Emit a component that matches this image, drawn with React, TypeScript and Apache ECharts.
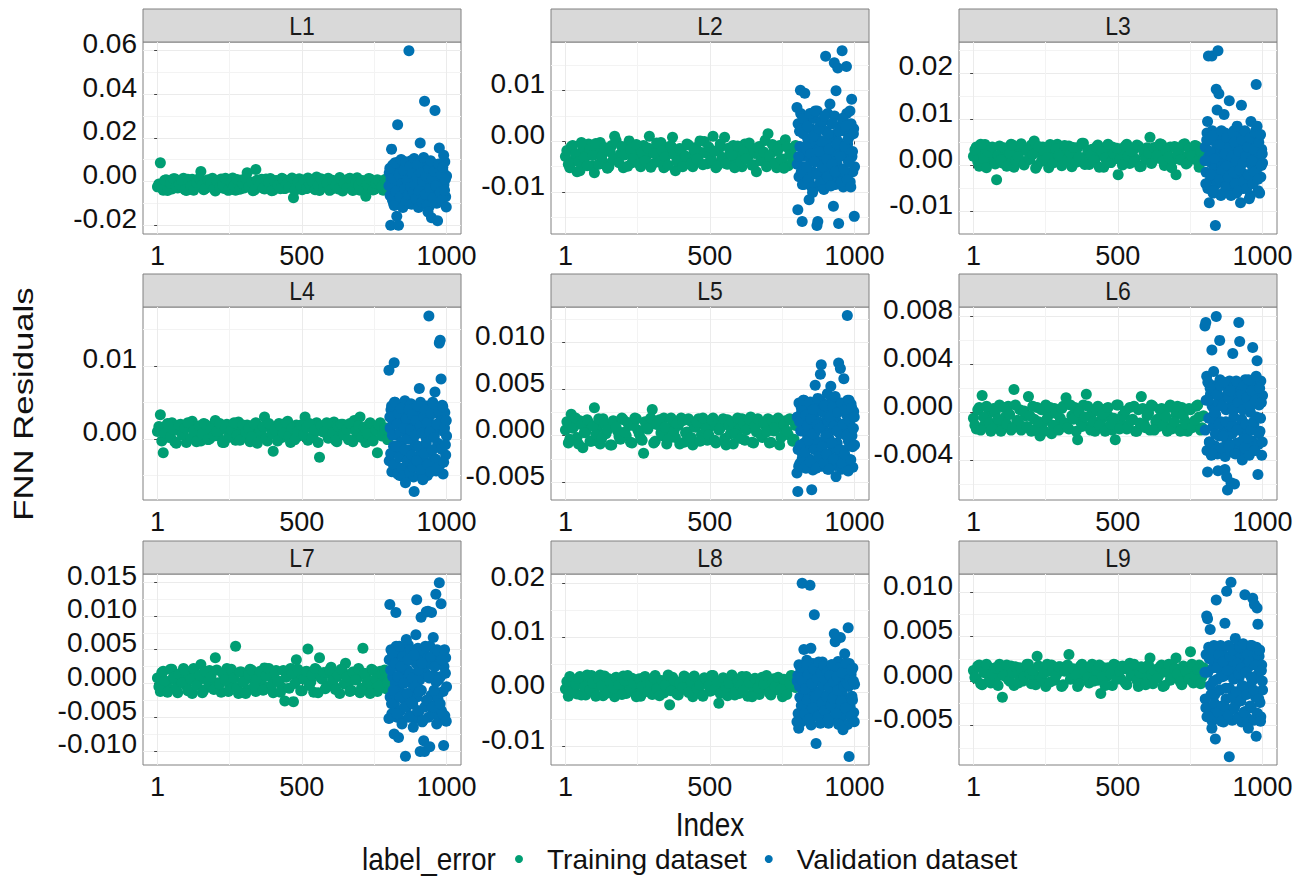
import React, { useEffect, useRef } from "react";
import * as echarts from "echarts";

// ---------------- DATA ----------------
const PANELS = ["L1", "L2", "L3", "L4", "L5", "L6", "L7", "L8", "L9"];
const SERIES_NAMES = ["Training dataset", "Validation dataset"];
const LEGEND_TITLE = "label_error";
const X_TITLE = "Index";
const Y_TITLE = "FNN Residuals";

const X_MAJOR = [1, 500, 1000];
const X_MINOR = [250.5, 750.5];

// observation indices (sub-sampled)
const TRAIN_IDX = [1, 11, 21, 31, 41, 51, 61, 71, 81, 91, 101, 111, 121, 131, 141, 151, 161, 171, 181, 191,
  201, 211, 221, 231, 241, 251, 261, 271, 281, 291, 301, 311, 321, 331, 341, 351, 361, 371, 381, 391,
  401, 411, 421, 431, 441, 451, 461, 471, 481, 491, 501, 511, 521, 531, 541, 551, 561, 571, 581, 591,
  601, 611, 621, 631, 641, 651, 661, 671, 681, 691, 701, 711, 721, 731, 741, 751, 761, 771, 781, 791];
const TRAIN_IDX_B = [6, 16, 26, 36, 46, 56, 66, 76, 86, 96, 106, 116, 126, 136, 146, 156, 166, 176, 186, 196,
  206, 216, 226, 236, 246, 256, 266, 276, 286, 296, 306, 316, 326, 336, 346, 356, 366, 376, 386, 396,
  406, 416, 426, 436, 446, 456, 466, 476, 486, 496, 506, 516, 526, 536, 546, 556, 566, 576, 586, 596,
  606, 616, 626, 636, 646, 656, 666, 676, 686, 696, 706, 716, 726, 736, 746, 756, 766, 776, 786, 796];
const VAL_IDX = [801, 804, 807, 810, 813, 816, 819, 822, 825, 828, 831, 834, 837, 840, 843, 846, 849, 852, 855, 858,
  861, 864, 867, 870, 873, 876, 879, 882, 885, 888, 891, 894, 897, 900, 903, 906, 909, 912, 915, 918,
  921, 924, 927, 930, 933, 936, 939, 942, 945, 948, 951, 954, 957, 960, 963, 966, 969, 972, 975, 978,
  981, 984, 987, 990, 993, 996, 999];
const VAL_IDX_B = [802, 805, 808, 811, 814, 817, 820, 823, 826, 829, 832, 835, 838, 841, 844, 847, 850, 853, 856, 859,
  862, 865, 868, 871, 874, 877, 880, 883, 886, 889, 892, 895, 898, 901, 904, 907, 910, 913, 916, 919,
  922, 925, 928, 931, 934, 937, 940, 943, 946, 949, 952, 955, 958, 961, 964, 967, 970, 973, 976, 979,
  982, 985, 988, 991, 994, 997, 1000];

const L1_TRAIN = [-0.0025, 0.0085, -0.0040, 0.0008, -0.0018, -0.0035, 0.0012, -0.0030, -0.0008, 0.0015,
  -0.0042, -0.0005, 0.0010, -0.0028, -0.0012, 0.0045, -0.0038, 0.0002, -0.0020, 0.0014,
  -0.0044, -0.0010, 0.0011, -0.0032, -0.0002, -0.0025, 0.0016, -0.0040, -0.0015, 0.0006,
  -0.0030, 0.0040, -0.0020, -0.0043, 0.0055, -0.0008, 0.0010, -0.0035, -0.0012, 0.0013,
  -0.0040, 0.0004, -0.0022, 0.0015, -0.0033, -0.0005, 0.0009, -0.0075, -0.0016, 0.0012,
  -0.0038, -0.0003, 0.0016, -0.0027, -0.0010, 0.0020, -0.0042, 0.0006, -0.0019, 0.0014,
  -0.0036, 0.0000, -0.0025, 0.0018, -0.0044, -0.0009, 0.0011, -0.0030, -0.0014, 0.0017,
  -0.0040, 0.0003, -0.0068, 0.0013, -0.0021, -0.0036, 0.0008, -0.0012, -0.0040, 0.0010];
const L1_TRAIN_B = [-0.0012, -0.0030, 0.0005, -0.0042, -0.0008, 0.0012, -0.0025, -0.0015, 0.0002, -0.0038,
  0.0010, -0.0022, -0.0040, -0.0005, 0.0014, -0.0018, -0.0032, 0.0008, -0.0010, -0.0035,
  0.0004, -0.0028, -0.0014, 0.0015, -0.0041, -0.0006, -0.0020, 0.0009, -0.0036, -0.0011,
  0.0013, -0.0024, -0.0003, -0.0039, 0.0006, -0.0016, -0.0031, 0.0011, -0.0007, -0.0043,
  0.0002, -0.0019, -0.0034, 0.0010, -0.0013, -0.0027, 0.0016, -0.0040, -0.0004, -0.0022,
  0.0007, -0.0033, -0.0012, 0.0003, -0.0038, -0.0017, 0.0012, -0.0026, -0.0008, -0.0041,
  0.0005, -0.0021, -0.0035, 0.0009, -0.0010, -0.0029, 0.0014, -0.0042, -0.0006, -0.0018,
  0.0004, -0.0032, -0.0015, 0.0011, -0.0039, -0.0009, 0.0002, -0.0025, 0.0008, -0.0034];
const L1_VAL = [-0.0020, 0.0060, -0.0201, 0.0148, -0.0085, 0.0015, -0.0110, 0.0085, -0.0045, -0.0160,
  0.0260, -0.0201, 0.0030, -0.0070, 0.0100, -0.0010, -0.0120, 0.0050, -0.0035, 0.0090,
  -0.0090, 0.0005, -0.0060, 0.0599, 0.0070, -0.0025, -0.0105, 0.0035, -0.0050, 0.0105,
  -0.0015, -0.0080, 0.0020, 0.0075, -0.0120, -0.0040, 0.0176, 0.0040, -0.0095, 0.0000,
  0.0110, 0.0367, -0.0060, 0.0025, -0.0110, -0.0140, 0.0060, -0.0030, 0.0095, -0.0167,
  0.0010, -0.0075, 0.0045, 0.0325, -0.0020, -0.0100, -0.0180, 0.0080, 0.0153, -0.0050,
  0.0030, -0.0085, 0.0065, 0.0120, -0.0040, 0.0010, -0.0117];
const L1_VAL_B = [0.0040, -0.0065, 0.0010, -0.0030, 0.0075, -0.0100, 0.0025, -0.0015, 0.0055, -0.0080,
  0.0000, 0.0090, -0.0050, 0.0020, -0.0110, 0.0065, -0.0025, 0.0035, -0.0070, 0.0080,
  -0.0005, -0.0095, 0.0045, 0.0015, -0.0055, 0.0095, -0.0035, 0.0005, -0.0085, 0.0050,
  0.0030, -0.0060, 0.0070, -0.0020, -0.0105, 0.0010, 0.0060, -0.0045, 0.0085, -0.0075,
  -0.0010, 0.0040, -0.0090, 0.0020, 0.0065, -0.0030, -0.0115, 0.0050, -0.0005, 0.0030,
  -0.0065, 0.0080, -0.0040, 0.0015, -0.0095, 0.0055, 0.0000, -0.0055, 0.0035, -0.0025,
  0.0070, -0.0080, 0.0045, -0.0015, 0.0090, -0.0070, 0.0025];

const L2_TRAIN = [-0.0030, -0.0045, -0.0010, -0.0038, -0.0060, -0.0058, -0.0015, -0.0030, -0.0005, -0.0048,
  -0.0062, -0.0022, -0.0002, -0.0040, -0.0018, -0.0050, -0.0008, 0.0010, -0.0035, -0.0025,
  -0.0052, -0.0012, 0.0001, -0.0042, -0.0020, -0.0033, -0.0050, -0.0008, -0.0028, 0.0010,
  -0.0045, -0.0015, -0.0035, -0.0002, -0.0052, -0.0025, -0.0010, 0.0008, -0.0058, -0.0030,
  -0.0018, -0.0046, -0.0005, -0.0032, -0.0050, -0.0012, -0.0038, -0.0022, 0.0000, -0.0044,
  -0.0028, 0.0010, -0.0052, -0.0015, -0.0035, 0.0008, -0.0045, -0.0020, -0.0008, -0.0040,
  -0.0025, -0.0050, -0.0005, -0.0032, -0.0015, -0.0046, -0.0060, -0.0010, -0.0030, 0.0002,
  0.0015, -0.0042, -0.0020, -0.0052, -0.0008, -0.0035, 0.0003, -0.0048, -0.0018, -0.0032];
const L2_TRAIN_B = [-0.0018, -0.0052, -0.0008, -0.0025, -0.0040, -0.0002, -0.0033, -0.0048, -0.0015, -0.0028,
  -0.0004, -0.0045, -0.0030, -0.0012, -0.0053, -0.0021, -0.0036, 0.0002, -0.0042, -0.0010,
  -0.0027, -0.0049, -0.0016, -0.0034, -0.0006, -0.0044, -0.0022, -0.0038, -0.0013, -0.0051,
  -0.0024, -0.0003, -0.0041, -0.0019, -0.0031, -0.0047, -0.0009, -0.0026, -0.0039, -0.0014,
  -0.0050, -0.0029, -0.0007, -0.0043, -0.0017, -0.0035, 0.0001, -0.0046, -0.0023, -0.0011,
  -0.0037, -0.0020, -0.0048, -0.0005, -0.0032, -0.0044, -0.0013, -0.0027, -0.0052, -0.0009,
  -0.0040, -0.0018, -0.0034, -0.0003, -0.0047, -0.0024, -0.0012, -0.0038, -0.0021, -0.0050,
  -0.0029, -0.0006, -0.0043, -0.0016, -0.0035, -0.0053, -0.0011, -0.0026, -0.0041, -0.0008];
const L2_VAL = [0.0067, -0.0135, -0.0030, 0.0020, 0.0101, -0.0060, -0.0158, 0.0045, -0.0085, 0.0095,
  -0.0010, -0.0050, 0.0030, -0.0075, -0.0115, 0.0055, -0.0025, -0.0090, -0.0101, 0.0010,
  -0.0040, 0.0060, -0.0065, -0.0166, -0.0158, 0.0025, -0.0020, -0.0080, 0.0040, -0.0050,
  0.0000, -0.0095, 0.0050, 0.0168, -0.0035, -0.0070, 0.0015, -0.0015, 0.0074, -0.0088,
  -0.0045, 0.0035, -0.0128, 0.0155, -0.0060, 0.0100, -0.0005, 0.0145, -0.0162, 0.0020,
  -0.0030, -0.0080, 0.0179, 0.0045, -0.0055, -0.0010, 0.0030, 0.0148, -0.0075, 0.0005,
  -0.0040, 0.0060, -0.0090, 0.0083, -0.0020, 0.0015, -0.0148];
const L2_VAL_B = [-0.0045, 0.0035, -0.0070, -0.0010, 0.0055, -0.0030, -0.0085, 0.0015, -0.0050, 0.0040,
  -0.0020, -0.0065, 0.0005, 0.0050, -0.0080, -0.0035, 0.0025, -0.0005, -0.0060, 0.0045,
  -0.0025, -0.0090, 0.0010, 0.0060, -0.0040, -0.0015, 0.0030, -0.0070, 0.0000, -0.0055,
  0.0040, -0.0030, -0.0085, 0.0020, -0.0010, 0.0055, -0.0050, -0.0075, 0.0005, -0.0035,
  0.0035, -0.0060, -0.0020, 0.0050, -0.0085, 0.0015, -0.0045, 0.0000, -0.0070, 0.0030,
  -0.0015, -0.0055, 0.0045, -0.0090, -0.0025, 0.0020, -0.0065, 0.0055, -0.0005, -0.0040,
  0.0010, -0.0080, 0.0035, -0.0030, -0.0060, 0.0025, -0.0050];

const L3_TRAIN = [0.0020, 0.0040, -0.0002, 0.0028, 0.0045, 0.0010, 0.0035, 0.0018, -0.0031, 0.0042,
  0.0005, 0.0030, 0.0015, 0.0046, -0.0004, 0.0025, 0.0038, 0.0008, 0.0032, 0.0012,
  0.0044, 0.0053, 0.0000, 0.0027, 0.0040, 0.0014, -0.0005, 0.0034, 0.0020, 0.0046,
  0.0006, 0.0030, 0.0016, 0.0042, -0.0003, 0.0024, 0.0038, 0.0010, 0.0048, 0.0020,
  0.0002, 0.0035, 0.0012, 0.0044, 0.0025, -0.0004, 0.0032, 0.0008, 0.0040, 0.0018,
  -0.0020, 0.0036, 0.0022, 0.0046, 0.0004, 0.0030, 0.0014, 0.0042, -0.0002, 0.0026,
  0.0038, 0.0061, 0.0010, 0.0032, 0.0018, 0.0045, 0.0000, 0.0028, 0.0040, 0.0012,
  -0.0020, 0.0035, 0.0020, 0.0047, 0.0006, 0.0030, 0.0015, 0.0042, -0.0004, 0.0025];
const L3_TRAIN_B = [0.0034, 0.0008, 0.0046, 0.0015, -0.0005, 0.0028, 0.0040, 0.0003, 0.0022, 0.0012,
  0.0038, -0.0002, 0.0026, 0.0044, 0.0010, 0.0019, 0.0047, 0.0001, 0.0032, 0.0014,
  0.0024, -0.0006, 0.0041, 0.0009, 0.0030, 0.0017, 0.0045, 0.0005, 0.0036, 0.0021,
  -0.0001, 0.0043, 0.0012, 0.0027, 0.0039, 0.0007, 0.0018, 0.0048, 0.0002, 0.0033,
  0.0023, 0.0011, 0.0040, -0.0004, 0.0029, 0.0016, 0.0046, 0.0006, 0.0025, 0.0037,
  0.0013, 0.0001, 0.0042, 0.0020, 0.0031, 0.0008, 0.0044, -0.0003, 0.0035, 0.0015,
  0.0027, 0.0004, 0.0039, 0.0022, 0.0047, 0.0010, 0.0032, 0.0018, -0.0005, 0.0041,
  0.0024, 0.0012, 0.0045, 0.0003, 0.0036, 0.0021, 0.0043, 0.0009, 0.0030, 0.0014];
const L3_VAL = [0.0010, -0.0040, 0.0055, 0.0095, 0.0237, -0.0081, 0.0030, -0.0020, 0.0237, 0.0065,
  -0.0055, 0.0015, -0.0130, 0.0165, 0.0120, 0.0248, 0.0155, -0.0030, 0.0045, 0.0075,
  -0.0010, -0.0060, 0.0110, 0.0025, -0.0045, 0.0060, 0.0000, -0.0025, 0.0140, 0.0040,
  -0.0065, 0.0020, 0.0070, -0.0015, 0.0050, -0.0040, 0.0010, 0.0085, -0.0055, 0.0030,
  -0.0010, -0.0081, 0.0130, 0.0055, 0.0005, -0.0035, 0.0075, 0.0020, -0.0050, 0.0040,
  -0.0020, -0.0072, 0.0060, 0.0095, 0.0010, -0.0040, 0.0035, -0.0015, 0.0070, 0.0175,
  0.0085, -0.0030, 0.0050, -0.0060, 0.0067, 0.0000, 0.0025];
const L3_VAL_B = [0.0040, -0.0015, 0.0070, -0.0050, 0.0020, 0.0055, -0.0030, 0.0005, 0.0075, -0.0060,
  0.0030, -0.0005, 0.0050, -0.0040, 0.0015, 0.0065, -0.0020, 0.0035, -0.0065, 0.0000,
  0.0045, 0.0025, -0.0035, 0.0070, -0.0010, 0.0010, -0.0055, 0.0060, 0.0030, -0.0025,
  0.0050, -0.0045, 0.0015, 0.0075, -0.0005, 0.0040, -0.0060, 0.0020, 0.0055, -0.0030,
  0.0005, 0.0065, -0.0015, 0.0035, -0.0050, 0.0025, 0.0070, -0.0040, 0.0010, 0.0045,
  -0.0020, 0.0060, -0.0065, 0.0030, 0.0000, 0.0050, -0.0035, 0.0015, 0.0075, -0.0010,
  0.0040, -0.0055, 0.0020, 0.0065, -0.0025, 0.0035, 0.0005];

const L4_TRAIN = [0.0010, 0.0033, -0.0019, 0.0018, 0.0002, 0.0022, -0.0004, 0.0012, 0.0020, 0.0005,
  -0.0005, 0.0016, 0.0024, 0.0006, 0.0014, -0.0003, 0.0021, 0.0009, 0.0000, 0.0018,
  0.0025, 0.0004, 0.0013, -0.0005, 0.0020, 0.0008, 0.0016, -0.0002, 0.0023, 0.0011,
  0.0003, 0.0019, -0.0004, 0.0014, 0.0022, 0.0006, 0.0012, 0.0030, -0.0003, 0.0017,
  -0.0017, 0.0009, 0.0021, 0.0002, 0.0015, 0.0024, -0.0005, 0.0011, 0.0019, 0.0004,
  0.0013, 0.0030, -0.0002, 0.0017, 0.0007, 0.0022, -0.0025, 0.0010, 0.0018, 0.0001,
  0.0014, 0.0023, -0.0004, 0.0008, 0.0020, 0.0012, -0.0001, 0.0016, 0.0025, 0.0005,
  0.0030, 0.0010, -0.0005, 0.0019, 0.0003, 0.0014, -0.0019, 0.0022, 0.0007, 0.0015];
const L4_TRAIN_B = [0.0017, -0.0003, 0.0008, 0.0021, 0.0003, 0.0013, -0.0006, 0.0019, 0.0006, 0.0015,
  0.0022, 0.0001, 0.0011, -0.0004, 0.0018, 0.0007, 0.0020, -0.0001, 0.0014, 0.0004,
  0.0010, 0.0021, -0.0005, 0.0016, 0.0002, 0.0012, 0.0022, 0.0005, -0.0002, 0.0019,
  0.0009, 0.0014, 0.0003, 0.0020, -0.0006, 0.0011, 0.0017, 0.0001, 0.0021, 0.0007,
  0.0013, -0.0003, 0.0018, 0.0008, 0.0022, 0.0004, 0.0015, -0.0001, 0.0010, 0.0019,
  0.0006, 0.0016, 0.0021, 0.0002, 0.0012, -0.0005, 0.0018, 0.0009, 0.0022, 0.0003,
  0.0008, -0.0002, 0.0017, 0.0020, 0.0005, 0.0013, 0.0021, -0.0004, 0.0011, 0.0018,
  0.0002, 0.0016, 0.0007, 0.0022, -0.0003, 0.0012, 0.0019, 0.0004, 0.0014, -0.0001];
const L4_VAL = [0.0094, 0.0030, -0.0020, 0.0045, 0.0005, -0.0035, 0.0104, 0.0050, -0.0010, 0.0020,
  -0.0048, 0.0035, -0.0025, 0.0010, 0.0042, -0.0040, -0.0051, 0.0015, -0.0015, -0.0060,
  0.0028, -0.0030, 0.0000, 0.0040, -0.0045, 0.0012, -0.0022, 0.0033, -0.0038, -0.0072,
  0.0005, 0.0025, -0.0030, 0.0045, -0.0010, 0.0069, 0.0018, -0.0042, 0.0008, -0.0056,
  0.0030, -0.0020, 0.0040, -0.0005, 0.0022, -0.0035, 0.0168, 0.0010, -0.0045, 0.0035,
  -0.0015, 0.0048, 0.0002, 0.0064, -0.0028, 0.0020, -0.0039, 0.0038, 0.0131, 0.0135,
  0.0082, -0.0012, 0.0044, -0.0032, 0.0015, -0.0008, 0.0025];
const L4_VAL_B = [-0.0030, 0.0015, 0.0040, -0.0045, 0.0025, -0.0010, 0.0050, -0.0035, 0.0005, 0.0030,
  -0.0020, 0.0045, -0.0050, 0.0020, -0.0005, 0.0035, -0.0040, 0.0010, 0.0052, -0.0025,
  0.0000, 0.0040, -0.0048, 0.0025, -0.0015, 0.0048, -0.0030, 0.0015, -0.0052, 0.0035,
  -0.0008, 0.0042, -0.0038, 0.0008, 0.0030, -0.0022, 0.0050, -0.0045, 0.0018, -0.0012,
  0.0038, -0.0032, 0.0003, 0.0045, -0.0050, 0.0022, -0.0018, 0.0032, -0.0040, 0.0012,
  0.0050, -0.0026, 0.0006, 0.0040, -0.0044, 0.0016, -0.0006, 0.0034, -0.0036, 0.0024,
  -0.0014, 0.0046, -0.0048, 0.0010, 0.0036, -0.0022, 0.0004];

const L5_TRAIN = [0.0006, -0.0008, 0.0023, 0.0010, -0.0002, 0.0016, -0.0013, 0.0004, 0.0014, -0.0006,
  0.0030, 0.0008, -0.0009, 0.0018, 0.0002, 0.0012, -0.0010, 0.0015, 0.0005, -0.0004,
  0.0017, 0.0000, 0.0011, -0.0008, 0.0019, 0.0006, -0.0003, -0.0019, 0.0009, 0.0016,
  0.0028, -0.0006, 0.0013, 0.0003, 0.0019, -0.0009, 0.0007, 0.0015, -0.0002, 0.0011,
  0.0019, -0.0007, 0.0004, 0.0016, -0.0010, 0.0009, 0.0018, 0.0001, 0.0013, -0.0005,
  0.0010, 0.0019, -0.0008, 0.0006, 0.0014, -0.0003, 0.0017, 0.0002, -0.0009, 0.0012,
  0.0007, 0.0018, -0.0005, 0.0010, 0.0020, -0.0008, 0.0004, 0.0015, -0.0002, 0.0011,
  0.0018, -0.0007, 0.0005, 0.0014, -0.0010, 0.0008, 0.0016, 0.0001, 0.0017, -0.0004];
const L5_TRAIN_B = [0.0015, -0.0004, 0.0008, 0.0019, -0.0009, 0.0012, 0.0003, 0.0017, -0.0006, 0.0010,
  0.0001, 0.0018, -0.0003, 0.0013, 0.0006, -0.0010, 0.0016, 0.0009, -0.0001, 0.0019,
  0.0004, 0.0014, -0.0007, 0.0011, 0.0018, 0.0002, -0.0005, 0.0015, 0.0007, 0.0019,
  -0.0008, 0.0012, 0.0017, 0.0000, 0.0009, -0.0004, 0.0019, 0.0005, 0.0013, -0.0009,
  0.0016, 0.0003, 0.0018, -0.0002, 0.0010, 0.0014, -0.0006, 0.0019, 0.0007, 0.0001,
  0.0017, -0.0005, 0.0012, 0.0008, 0.0018, -0.0010, 0.0011, 0.0015, 0.0002, 0.0019,
  -0.0003, 0.0013, 0.0006, 0.0017, -0.0007, 0.0010, 0.0018, 0.0001, 0.0014, 0.0004,
  -0.0008, 0.0016, 0.0009, 0.0019, -0.0002, 0.0012, 0.0005, 0.0018, -0.0006, 0.0011];
const L5_VAL = [-0.0040, -0.0060, -0.0033, 0.0015, -0.0010, 0.0030, -0.0025, 0.0005, 0.0038, -0.0018,
  0.0022, -0.0032, 0.0010, -0.0005, 0.0035, -0.0028, 0.0018, -0.0058, 0.0002, 0.0028,
  -0.0015, 0.0054, -0.0035, 0.0012, 0.0040, -0.0022, 0.0008, 0.0066, 0.0076, -0.0012,
  0.0025, -0.0030, 0.0032, 0.0000, -0.0020, 0.0045, 0.0015, -0.0036, 0.0020, 0.0053,
  -0.0008, 0.0030, -0.0025, 0.0010, 0.0042, -0.0044, 0.0005, 0.0025, 0.0078, -0.0015,
  0.0072, 0.0035, -0.0030, 0.0012, 0.0061, -0.0020, 0.0028, 0.0000, 0.0129, -0.0038,
  0.0038, 0.0016, -0.0026, 0.0030, -0.0012, 0.0008, 0.0020];
const L5_VAL_B = [0.0020, -0.0015, 0.0035, -0.0030, 0.0005, 0.0025, -0.0020, 0.0038, -0.0008, 0.0012,
  -0.0035, 0.0030, -0.0002, 0.0018, -0.0025, 0.0036, -0.0012, 0.0008, -0.0037, 0.0022,
  0.0002, -0.0028, 0.0033, -0.0006, 0.0015, -0.0018, 0.0038, -0.0033, 0.0010, 0.0026,
  -0.0010, 0.0034, -0.0024, 0.0004, 0.0020, -0.0036, 0.0030, -0.0004, 0.0014, -0.0028,
  0.0037, -0.0014, 0.0006, 0.0024, -0.0032, 0.0016, -0.0008, 0.0035, -0.0022, 0.0002,
  0.0028, -0.0036, 0.0012, 0.0032, -0.0016, 0.0008, -0.0030, 0.0022, 0.0038, -0.0006,
  0.0018, -0.0026, 0.0034, 0.0000, -0.0034, 0.0026, -0.0010];

const L6_TRAIN = [-0.0005, -0.0014, 0.0004, 0.0014, -0.0010, -0.0002, -0.0016, 0.0003, -0.0008, 0.0006,
  -0.0013, -0.0004, 0.0005, -0.0015, 0.0019, -0.0007, 0.0002, -0.0012, -0.0003, 0.0013,
  -0.0016, -0.0006, 0.0004, -0.0020, -0.0009, 0.0006, -0.0002, -0.0018, 0.0003, -0.0011,
  -0.0005, 0.0005, 0.0012, -0.0014, -0.0003, 0.0004, -0.0023, -0.0008, 0.0006, 0.0015,
  -0.0012, -0.0001, -0.0016, 0.0005, -0.0007, -0.0013, 0.0003, -0.0004, -0.0015, -0.0023,
  0.0006, -0.0009, -0.0002, -0.0014, 0.0004, -0.0006, -0.0016, 0.0002, 0.0013, -0.0010,
  -0.0003, -0.0015, 0.0005, -0.0008, -0.0012, 0.0003, -0.0005, -0.0016, 0.0006, -0.0010,
  -0.0002, -0.0014, 0.0004, -0.0007, -0.0016, 0.0002, -0.0011, 0.0005, -0.0004, -0.0013];
const L6_TRAIN_B = [-0.0011, 0.0002, -0.0015, -0.0004, 0.0005, -0.0009, -0.0014, 0.0000, -0.0006, -0.0016,
  0.0004, -0.0010, -0.0002, -0.0013, 0.0006, -0.0007, -0.0015, 0.0001, -0.0012, -0.0003,
  0.0005, -0.0014, -0.0008, 0.0002, -0.0016, -0.0005, 0.0004, -0.0011, -0.0001, -0.0015,
  0.0003, -0.0009, -0.0013, 0.0006, -0.0006, -0.0016, 0.0000, -0.0012, -0.0004, 0.0005,
  -0.0015, -0.0008, 0.0002, -0.0011, -0.0002, -0.0016, 0.0004, -0.0010, -0.0005, 0.0006,
  -0.0014, -0.0003, 0.0001, -0.0012, -0.0007, 0.0005, -0.0016, -0.0009, 0.0003, -0.0013,
  -0.0001, 0.0006, -0.0015, -0.0006, 0.0002, -0.0011, -0.0004, 0.0004, -0.0014, -0.0008,
  0.0005, -0.0016, -0.0002, -0.0010, 0.0003, -0.0013, -0.0007, 0.0006, -0.0015, -0.0003];
const L6_VAL = [0.0072, 0.0075, 0.0030, -0.0050, 0.0010, -0.0025, 0.0020, -0.0005, 0.0052, -0.0035,
  0.0034, 0.0000, -0.0018, 0.0080, 0.0015, -0.0049, -0.0010, 0.0060, 0.0022, -0.0030,
  0.0005, -0.0020, 0.0025, -0.0048, -0.0008, -0.0054, -0.0065, 0.0012, -0.0028, 0.0018,
  -0.0059, -0.0012, 0.0049, 0.0002, -0.0060, -0.0035, 0.0026, -0.0015, 0.0008, 0.0075,
  0.0059, -0.0025, 0.0015, -0.0040, 0.0002, 0.0022, -0.0030, -0.0010, 0.0012, -0.0022,
  0.0027, -0.0036, 0.0005, -0.0015, 0.0018, 0.0054, -0.0008, -0.0032, 0.0010, 0.0030,
  0.0043, -0.0052, -0.0018, 0.0020, -0.0005, 0.0008, -0.0025];
const L6_VAL_B = [-0.0015, 0.0010, -0.0032, 0.0025, -0.0005, -0.0025, 0.0015, -0.0036, 0.0005, -0.0012,
  0.0022, -0.0028, -0.0002, 0.0018, -0.0035, 0.0008, -0.0020, 0.0027, -0.0008, -0.0030,
  0.0012, -0.0016, 0.0024, -0.0037, 0.0002, -0.0024, 0.0016, -0.0010, 0.0026, -0.0033,
  0.0006, -0.0018, 0.0020, -0.0004, -0.0034, 0.0014, -0.0026, 0.0024, -0.0012, 0.0004,
  -0.0030, 0.0018, -0.0006, -0.0036, 0.0010, -0.0020, 0.0027, -0.0014, -0.0028, 0.0008,
  0.0022, -0.0034, 0.0000, 0.0016, -0.0024, 0.0025, -0.0010, -0.0032, 0.0012, -0.0004,
  0.0020, -0.0027, 0.0006, -0.0016, 0.0026, -0.0036, 0.0014];

const L7_TRAIN = [0.0008, -0.0012, 0.0018, 0.0002, -0.0008, 0.0021, 0.0005, -0.0014, 0.0012, 0.0022,
  -0.0004, 0.0010, -0.0015, 0.0016, 0.0003, 0.0028, -0.0010, 0.0007, 0.0019, -0.0006,
  0.0038, 0.0001, -0.0013, 0.0014, 0.0022, -0.0005, 0.0009, 0.0055, -0.0015, 0.0017,
  0.0004, -0.0009, 0.0021, 0.0006, -0.0012, 0.0015, 0.0000, 0.0023, -0.0007, 0.0011,
  -0.0014, 0.0019, 0.0003, -0.0006, -0.0026, 0.0013, 0.0022, -0.0027, 0.0035, 0.0008,
  -0.0011, 0.0017, 0.0051, 0.0002, -0.0013, 0.0020, 0.0038, 0.0006, -0.0008, 0.0015,
  0.0024, -0.0004, 0.0010, -0.0015, 0.0018, 0.0030, 0.0001, -0.0010, 0.0016, 0.0007,
  -0.0014, 0.0052, 0.0012, -0.0005, 0.0021, 0.0004, -0.0012, 0.0018, 0.0009, -0.0008];
const L7_TRAIN_B = [-0.0005, 0.0016, 0.0004, -0.0013, 0.0021, 0.0009, -0.0008, 0.0014, 0.0001, 0.0019,
  -0.0011, 0.0006, 0.0022, -0.0003, 0.0012, -0.0014, 0.0018, 0.0003, 0.0010, -0.0009,
  0.0020, -0.0001, 0.0015, 0.0005, -0.0012, 0.0021, 0.0008, -0.0006, 0.0017, 0.0002,
  -0.0015, 0.0013, 0.0020, -0.0004, 0.0007, 0.0018, -0.0010, 0.0011, 0.0022, -0.0002,
  0.0016, 0.0004, -0.0013, 0.0019, 0.0009, -0.0007, 0.0014, 0.0000, 0.0021, -0.0011,
  0.0006, 0.0018, -0.0003, 0.0012, 0.0022, -0.0014, 0.0008, 0.0016, -0.0005, 0.0020,
  0.0003, -0.0009, 0.0013, 0.0021, -0.0001, 0.0010, -0.0012, 0.0017, 0.0005, 0.0022,
  -0.0007, 0.0015, 0.0002, -0.0015, 0.0019, 0.0007, -0.0004, 0.0014, 0.0020, 0.0001];
const L7_VAL = [-0.0052, 0.0117, 0.0020, -0.0030, 0.0045, -0.0010, -0.0075, 0.0030, 0.0105, -0.0045,
  0.0010, -0.0080, 0.0055, -0.0020, 0.0025, -0.0060, 0.0040, 0.0000, -0.0035, -0.0108,
  0.0065, -0.0015, 0.0035, -0.0050, 0.0015, 0.0050, -0.0028, 0.0008, -0.0065, 0.0042,
  -0.0005, 0.0072, 0.0124, -0.0040, 0.0020, -0.0012, -0.0101, 0.0098, 0.0030, -0.0055,
  -0.0085, -0.0101, 0.0055, 0.0106, -0.0025, 0.0107, 0.0010, -0.0094, 0.0040, 0.0105,
  -0.0035, 0.0068, -0.0010, 0.0025, 0.0132, -0.0060, 0.0048, 0.0005, 0.0149, -0.0030,
  0.0118, 0.0035, -0.0045, -0.0092, 0.0050, 0.0015, -0.0056];
const L7_VAL_B = [0.0035, -0.0020, 0.0050, -0.0045, 0.0010, 0.0040, -0.0030, 0.0000, 0.0055, -0.0050,
  0.0025, -0.0010, 0.0045, -0.0040, 0.0015, -0.0055, 0.0030, 0.0005, -0.0025, 0.0050,
  -0.0035, 0.0020, 0.0057, -0.0015, -0.0048, 0.0035, 0.0000, -0.0030, 0.0045, -0.0052,
  0.0012, 0.0030, -0.0020, 0.0052, -0.0042, 0.0005, 0.0040, -0.0010, -0.0057, 0.0022,
  0.0048, -0.0035, 0.0015, -0.0025, 0.0038, -0.0050, 0.0008, 0.0055, -0.0018, 0.0028,
  -0.0045, 0.0012, 0.0042, -0.0032, 0.0002, 0.0050, -0.0022, -0.0054, 0.0032, 0.0010,
  -0.0040, 0.0045, -0.0012, 0.0025, -0.0048, 0.0038, -0.0005];

const L8_TRAIN = [0.0005, -0.0008, 0.0022, 0.0010, -0.0004, 0.0028, 0.0014, -0.0006, 0.0018, 0.0030,
  0.0002, 0.0016, 0.0031, -0.0007, 0.0012, 0.0024, 0.0004, -0.0009, 0.0020, 0.0008,
  0.0029, -0.0003, 0.0015, 0.0025, 0.0001, 0.0011, -0.0008, 0.0026, 0.0006, 0.0018,
  -0.0005, 0.0030, 0.0009, 0.0021, -0.0002, 0.0014, -0.0024, 0.0027, 0.0007, -0.0006,
  0.0019, 0.0029, 0.0003, 0.0013, -0.0009, 0.0023, 0.0010, -0.0004, 0.0026, 0.0016,
  0.0001, 0.0030, 0.0008, -0.0021, 0.0020, 0.0012, -0.0007, 0.0025, 0.0005, 0.0017,
  -0.0003, 0.0028, 0.0011, -0.0008, 0.0022, 0.0006, 0.0015, -0.0005, 0.0027, 0.0009,
  0.0019, -0.0006, 0.0024, 0.0004, 0.0013, -0.0009, 0.0021, 0.0007, 0.0030, 0.0014];
const L8_TRAIN_B = [0.0019, 0.0028, 0.0002, 0.0014, 0.0025, -0.0006, 0.0009, 0.0031, 0.0004, 0.0016,
  -0.0008, 0.0023, 0.0011, 0.0029, -0.0002, 0.0018, 0.0007, 0.0027, 0.0013, -0.0005,
  0.0021, 0.0030, 0.0003, 0.0015, -0.0009, 0.0024, 0.0010, 0.0028, 0.0000, 0.0017,
  0.0026, 0.0005, -0.0007, 0.0020, 0.0012, 0.0031, 0.0002, 0.0022, -0.0004, 0.0015,
  0.0008, 0.0027, -0.0001, 0.0018, 0.0029, 0.0006, 0.0013, -0.0008, 0.0024, 0.0011,
  0.0030, 0.0004, 0.0019, -0.0003, 0.0026, 0.0009, 0.0016, 0.0031, -0.0006, 0.0021,
  0.0012, 0.0003, 0.0028, 0.0017, -0.0009, 0.0025, 0.0007, 0.0022, 0.0014, 0.0030,
  -0.0002, 0.0018, 0.0010, 0.0027, 0.0005, 0.0023, -0.0005, 0.0016, 0.0029, 0.0008];
const L8_VAL = [-0.0055, 0.0030, -0.0067, 0.0010, 0.0045, -0.0025, 0.0200, 0.0020, 0.0078, -0.0040,
  0.0005, 0.0050, -0.0015, 0.0032, -0.0050, 0.0196, 0.0080, 0.0015, -0.0030, 0.0042,
  0.0142, -0.0010, -0.0095, 0.0025, -0.0045, 0.0055, 0.0000, -0.0058, 0.0035, -0.0020,
  0.0012, 0.0048, -0.0035, 0.0022, -0.0008, 0.0038, -0.0050, 0.0008, 0.0030, -0.0025,
  0.0050, -0.0012, 0.0018, 0.0107, 0.0092, -0.0040, 0.0028, 0.0003, -0.0060, 0.0045,
  0.0100, -0.0018, 0.0035, -0.0070, 0.0010, 0.0070, -0.0030, 0.0052, 0.0015, 0.0118,
  -0.0119, 0.0025, -0.0045, 0.0040, -0.0015, 0.0020, -0.0055];
const L8_VAL_B = [0.0020, -0.0040, 0.0050, -0.0010, 0.0035, -0.0055, 0.0005, 0.0045, -0.0030, 0.0015,
  -0.0020, 0.0058, -0.0050, 0.0025, -0.0005, 0.0040, -0.0061, 0.0010, 0.0052, -0.0035,
  0.0030, -0.0015, 0.0048, -0.0045, 0.0000, 0.0038, -0.0025, 0.0018, -0.0055, 0.0055,
  -0.0008, 0.0028, -0.0040, 0.0044, -0.0018, 0.0012, -0.0058, 0.0034, 0.0004, -0.0030,
  0.0050, -0.0048, 0.0022, -0.0012, 0.0042, -0.0036, 0.0008, 0.0056, -0.0022, 0.0030,
  -0.0052, 0.0016, -0.0004, 0.0046, -0.0042, 0.0024, -0.0016, 0.0038, -0.0060, 0.0010,
  0.0052, -0.0028, 0.0032, -0.0008, 0.0044, -0.0038, 0.0014];

const L9_TRAIN = [0.0012, 0.0003, 0.0018, -0.0004, 0.0009, 0.0016, -0.0002, 0.0013, 0.0005, 0.0019,
  -0.0018, 0.0010, 0.0002, 0.0017, -0.0005, 0.0008, 0.0015, 0.0000, 0.0012, 0.0019,
  -0.0003, 0.0007, 0.0028, 0.0004, 0.0014, -0.0006, 0.0011, 0.0018, 0.0001, 0.0009,
  0.0016, -0.0004, 0.0012, 0.0030, 0.0003, 0.0010, -0.0006, 0.0017, 0.0006, 0.0013,
  -0.0002, 0.0019, 0.0008, 0.0001, -0.0014, 0.0015, 0.0005, 0.0012, -0.0005, 0.0018,
  0.0009, 0.0002, 0.0014, -0.0004, 0.0020, 0.0007, 0.0012, -0.0006, 0.0016, 0.0003,
  0.0010, 0.0026, -0.0003, 0.0013, 0.0006, 0.0018, -0.0005, 0.0011, 0.0001, 0.0016,
  0.0026, 0.0004, -0.0004, 0.0014, 0.0008, 0.0033, -0.0002, 0.0012, 0.0018, 0.0005];
const L9_TRAIN_B = [0.0004, 0.0017, -0.0003, 0.0011, 0.0019, 0.0001, 0.0008, 0.0015, -0.0005, 0.0013,
  0.0006, 0.0018, 0.0000, 0.0010, 0.0016, -0.0002, 0.0014, 0.0005, 0.0019, 0.0008,
  0.0012, -0.0004, 0.0017, 0.0003, 0.0009, 0.0019, -0.0001, 0.0013, 0.0006, 0.0016,
  -0.0006, 0.0011, 0.0018, 0.0002, 0.0014, 0.0007, -0.0003, 0.0019, 0.0010, 0.0004,
  0.0016, 0.0000, 0.0012, 0.0018, 0.0005, -0.0005, 0.0015, 0.0008, 0.0019, 0.0002,
  0.0011, 0.0017, -0.0002, 0.0013, 0.0006, 0.0019, 0.0001, 0.0009, 0.0015, -0.0004,
  0.0018, 0.0007, 0.0012, 0.0003, 0.0016, -0.0006, 0.0010, 0.0019, 0.0004, 0.0014,
  0.0008, -0.0001, 0.0017, 0.0011, 0.0002, 0.0019, 0.0006, 0.0013, -0.0003, 0.0015];
const L9_VAL = [0.0010, -0.0030, 0.0073, 0.0070, -0.0040, 0.0025, 0.0058, -0.0015, -0.0053, 0.0035,
  0.0000, -0.0025, -0.0065, 0.0091, 0.0015, -0.0035, 0.0030, -0.0010, 0.0040, -0.0045,
  0.0005, 0.0022, -0.0028, 0.0065, -0.0008, 0.0101, 0.0012, -0.0038, -0.0085, 0.0028,
  0.0111, -0.0018, 0.0035, 0.0002, -0.0030, 0.0048, -0.0012, 0.0020, -0.0042, 0.0008,
  0.0038, -0.0022, 0.0015, -0.0005, 0.0042, -0.0035, 0.0097, 0.0010, -0.0015, 0.0030,
  -0.0053, 0.0022, -0.0028, 0.0005, 0.0040, 0.0093, -0.0010, 0.0086, 0.0018, -0.0062,
  0.0082, 0.0064, -0.0020, 0.0035, -0.0045, 0.0012, 0.0000];
const L9_VAL_B = [-0.0020, 0.0030, -0.0040, 0.0010, 0.0038, -0.0030, -0.0005, 0.0025, -0.0045, 0.0015,
  0.0040, -0.0015, -0.0035, 0.0020, 0.0002, -0.0042, 0.0032, -0.0010, 0.0012, -0.0028,
  0.0036, -0.0046, 0.0006, 0.0028, -0.0020, -0.0038, 0.0018, 0.0040, -0.0008, -0.0032,
  0.0024, -0.0044, 0.0008, 0.0034, -0.0016, -0.0026, 0.0014, 0.0038, -0.0040, 0.0004,
  0.0030, -0.0022, -0.0046, 0.0020, 0.0036, -0.0012, -0.0034, 0.0010, 0.0026, -0.0042,
  0.0016, -0.0006, 0.0040, -0.0030, 0.0000, 0.0032, -0.0044, 0.0022, -0.0018, 0.0038,
  -0.0036, 0.0008, 0.0028, -0.0024, -0.0040, 0.0018, -0.0010];

const TRAIN_A = [L1_TRAIN, L2_TRAIN, L3_TRAIN, L4_TRAIN, L5_TRAIN, L6_TRAIN, L7_TRAIN, L8_TRAIN, L9_TRAIN];
const TRAIN_B = [L1_TRAIN_B, L2_TRAIN_B, L3_TRAIN_B, L4_TRAIN_B, L5_TRAIN_B, L6_TRAIN_B, L7_TRAIN_B, L8_TRAIN_B, L9_TRAIN_B];
const VAL_A = [L1_VAL, L2_VAL, L3_VAL, L4_VAL, L5_VAL, L6_VAL, L7_VAL, L8_VAL, L9_VAL];
const VAL_B = [L1_VAL_B, L2_VAL_B, L3_VAL_B, L4_VAL_B, L5_VAL_B, L6_VAL_B, L7_VAL_B, L8_VAL_B, L9_VAL_B];

// y axis limits and tick labels per panel
const Y_MIN = [-0.0241, -0.01828, -0.01485, -0.00836, -0.00691, -0.00734, -0.01209, -0.01347, -0.00942];
const Y_MAX = [0.0639, 0.01962, 0.02671, 0.01804, 0.01381, 0.00879, 0.01621, 0.02169, 0.01203];
const Y_MAJOR = [
  [-0.02, 0, 0.02, 0.04, 0.06],
  [-0.01, 0, 0.01],
  [-0.01, 0, 0.01, 0.02],
  [0, 0.01],
  [-0.005, 0, 0.005, 0.01],
  [-0.004, 0, 0.004, 0.008],
  [-0.01, -0.005, 0, 0.005, 0.01, 0.015],
  [-0.01, 0, 0.01, 0.02],
  [-0.005, 0, 0.005, 0.01],
];
const Y_MINOR = [
  [-0.01, 0.01, 0.03, 0.05],
  [-0.015, -0.005, 0.005, 0.015],
  [-0.005, 0.005, 0.015, 0.025],
  [-0.005, 0.005, 0.015],
  [-0.0025, 0.0025, 0.0075, 0.0125],
  [-0.006, -0.002, 0.002, 0.006],
  [-0.0075, -0.0025, 0.0025, 0.0075, 0.0125],
  [-0.005, 0.005, 0.015],
  [-0.0075, -0.0025, 0.0025, 0.0075],
];
const Y_DECIMALS = [2, 2, 2, 2, 3, 3, 3, 2, 3];

// ---------------- LAYOUT / STYLE ----------------
const X_MIN = -48.95;
const X_MAX = 1049.95;
const COL_LEFT = [143, 551, 959];
const PANEL_W = 318;
const ROW_TOP = [42, 307, 574];
const ROW_H = [192, 193, 191];
const STRIP_H = 33;
const FONT = '"Liberation Sans", Arial, Helvetica, sans-serif';
const GREEN = "#009E73";
const BLUE = "#0072B2";
const BORDER = "#808080";
const GRID_MAJOR = "#EBEBEB";
const GRID_MINOR = "#F3F3F3";
const DOT = 11;

function pairs(xs: number[], ys: number[]) {
  return xs.map((x, k) => [x, ys[k]]);
}

function buildOption() {
  const grid: any[] = [];
  const xAxis: any[] = [];
  const yAxis: any[] = [];
  const series: any[] = [];
  const graphic: any[] = [];

  PANELS.forEach((name, i) => {
    const r = Math.floor(i / 3);
    const c = i % 3;
    const left = COL_LEFT[c];
    const top = ROW_TOP[r];
    const h = ROW_H[r];
    grid.push({
      left, top, width: PANEL_W, height: h,
      show: true, backgroundColor: "#ffffff", borderColor: BORDER, borderWidth: 1,
      containLabel: false, outerBoundsMode: "none",
    });
    xAxis.push({
      type: "value", gridIndex: i, min: X_MIN, max: X_MAX, position: "bottom",
      axisLine: { show: false },
      axisTick: { show: true, length: 3, lineStyle: { color: "#444", width: 1 }, customValues: X_MAJOR },
      axisLabel: { customValues: X_MAJOR, fontSize: 27, color: "#111", fontFamily: FONT, margin: 8,
        formatter: (v: number) => String(Math.round(v)) },
      splitLine: { show: true, lineStyle: { color: GRID_MAJOR, width: 1 } },
    });
    xAxis.push({
      type: "value", gridIndex: i, min: X_MIN, max: X_MAX, position: "bottom",
      axisLine: { show: false },
      axisTick: { show: false, customValues: X_MINOR },
      axisLabel: { show: false, customValues: X_MINOR },
      splitLine: { show: true, lineStyle: { color: GRID_MINOR, width: 1 } },
    });
    const dec = Y_DECIMALS[i];
    yAxis.push({
      type: "value", gridIndex: i, min: Y_MIN[i], max: Y_MAX[i], position: "left",
      axisLine: { show: false },
      axisTick: { show: true, length: 3, lineStyle: { color: "#444", width: 1 }, customValues: Y_MAJOR[i] },
      axisLabel: { customValues: Y_MAJOR[i], fontSize: 28, color: "#111", fontFamily: FONT, margin: 6,
        verticalAlign: "bottom", lineHeight: 14,
        formatter: (v: number) => Number(v).toFixed(dec) },
      splitLine: { show: true, lineStyle: { color: GRID_MAJOR, width: 1 } },
    });
    yAxis.push({
      type: "value", gridIndex: i, min: Y_MIN[i], max: Y_MAX[i], position: "left",
      axisLine: { show: false },
      axisTick: { show: false, customValues: Y_MINOR[i] },
      axisLabel: { show: false, customValues: Y_MINOR[i] },
      splitLine: { show: true, lineStyle: { color: GRID_MINOR, width: 1 } },
    });

    series.push({
      type: "scatter", name: SERIES_NAMES[0], xAxisIndex: 2 * i, yAxisIndex: 2 * i,
      data: pairs(TRAIN_IDX, TRAIN_A[i]).concat(pairs(TRAIN_IDX_B, TRAIN_B[i])),
      symbol: "circle", symbolSize: DOT, itemStyle: { color: GREEN, opacity: 1 }, silent: true, z: 3,
    });
    series.push({
      type: "scatter", name: SERIES_NAMES[1], xAxisIndex: 2 * i, yAxisIndex: 2 * i,
      data: pairs(VAL_IDX_B, VAL_B[i]).concat(pairs(VAL_IDX, VAL_A[i])),
      symbol: "circle", symbolSize: DOT, itemStyle: { color: BLUE, opacity: 1 }, silent: true, z: 4,
    });

    graphic.push({
      type: "rect", silent: true,
      shape: { x: left, y: top - STRIP_H, width: PANEL_W, height: STRIP_H },
      style: { fill: "#D9D9D9", stroke: BORDER, lineWidth: 1 },
    });
    graphic.push({
      type: "text", silent: true, x: left + PANEL_W / 2, y: top - STRIP_H / 2 + 1, scaleY: 1.12,
      style: { text: name, fontSize: 23, fontFamily: FONT, fill: "#1A1A1A",
        align: "center", verticalAlign: "middle", textAlign: "center", textVerticalAlign: "middle" },
    });
  });

  graphic.push({
    type: "text", silent: true, x: 710, y: 825, scaleY: 1.2,
    style: { text: X_TITLE, fontSize: 28, fontFamily: FONT, fill: "#111",
      align: "center", verticalAlign: "middle", textAlign: "center", textVerticalAlign: "middle" },
  });
  graphic.push({
    type: "text", silent: true, x: 23, y: 404, rotation: Math.PI / 2, scaleX: 1.24,
    style: { text: Y_TITLE, fontSize: 28, fontFamily: FONT, fill: "#111",
      align: "center", verticalAlign: "middle", textAlign: "center", textVerticalAlign: "middle" },
  });
  graphic.push({
    type: "text", silent: true, x: 362, y: 859, scaleY: 1.15,
    style: { text: LEGEND_TITLE, fontSize: 28, fontFamily: FONT, fill: "#111",
      align: "left", verticalAlign: "middle", textAlign: "left", textVerticalAlign: "middle" },
  });

  return {
    animation: false,
    backgroundColor: "#ffffff",
    textStyle: { fontFamily: FONT },
    grid, xAxis, yAxis, series, graphic,
    legend: {
      data: SERIES_NAMES, left: 515, top: 845, orient: "horizontal", icon: "circle",
      itemWidth: 46, itemHeight: 8, itemGap: 18, padding: 0, selectedMode: false,
      textStyle: { fontSize: 28, color: "#111", fontFamily: FONT },
    },
  };
}

export default function App() {
  const ref = useRef<HTMLDivElement | null>(null);
  useEffect(() => {
    if (!ref.current) return;
    const chart = echarts.init(ref.current, null, { renderer: "svg" });
    chart.setOption(buildOption() as any);
    return () => chart.dispose();
  }, []);
  return (
    <div
      ref={ref}
      style={{ position: "fixed", left: 0, top: 0, width: 1303, height: 885, background: "#fff" }}
    />
  );
}
